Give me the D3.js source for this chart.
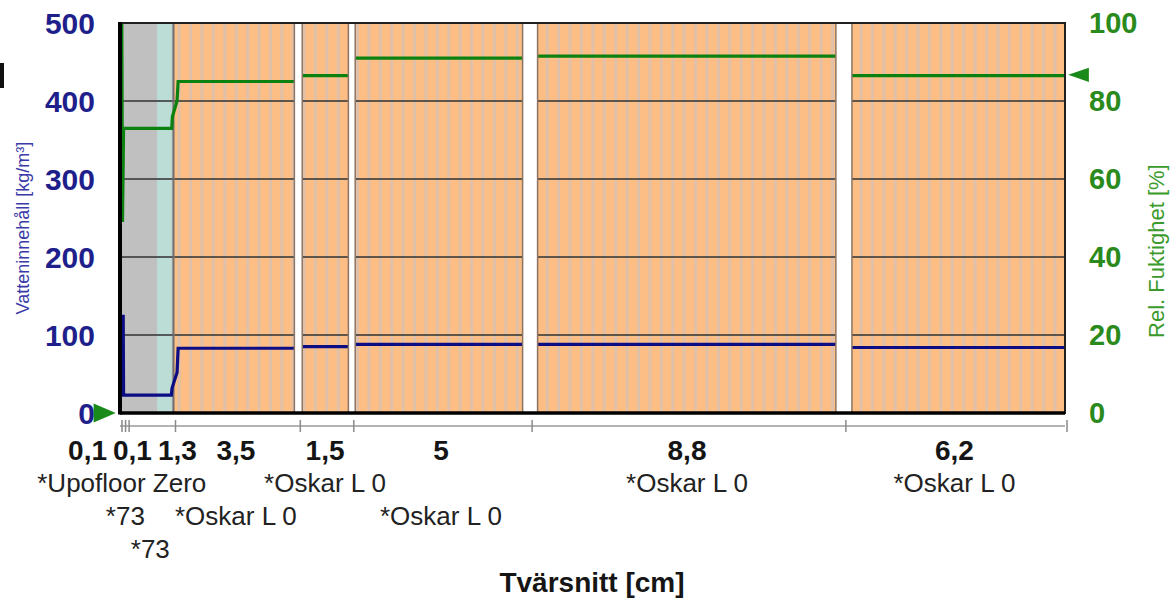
<!DOCTYPE html>
<html>
<head>
<meta charset="utf-8">
<script src="https://cdn.jsdelivr.net/npm/d3@7"></script>
<style>
  body { margin: 0; background: #fff; }
  svg { display: block; font-family: "Liberation Sans", Arial, sans-serif; }
</style>
</head>
<body>
<div id="chart"></div>
<script>
// layers (cm) and their labels
const thickness = [0.1, 0.1, 1.3, 3.5, 1.5, 5, 8.8, 6.2]
const thicknessLabels = ['0,1', '0,1', '1,3', '3,5', '1,5', '5', '8,8', '6,2']
const materials = ['*Upofloor Zero', '*73', '*73', '*Oskar L 0', '*Oskar L 0', '*Oskar L 0', '*Oskar L 0', '*Oskar L 0']
const materialKind = ['floor', 'floor', 'floor', 'wood', 'wood', 'wood', 'wood', 'wood']
// white separators after layer index, width in cm
const gapAfter = [3, 4, 5, 6]
const gapWidthCm = [0.22, 0.19, 0.42, 0.45]
const tealBand = [1.04, 1.45]

const waterTicks = [0, 100, 200, 300, 400, 500]
const rhTicks = [0, 20, 40, 60, 80, 100]

// water content [kg/m3] along the section
const waterContent = [[0.09, 126], [0.1, 23], [1.44, 23], [1.46, 32], [1.6, 52], [1.63, 83], [5.0, 83], [5.0, 85],
  [6.5, 85], [6.5, 88], [11.5, 88], [20.3, 88], [20.3, 84], [26.5, 84]]
// relative humidity [%]
const relHumidity = [[0.05, 100], [0.07, 49], [0.1, 73], [1.45, 73], [1.47, 76], [1.6, 80], [1.63, 85], [5.0, 85], [5.0, 86.5],
  [6.5, 86.5], [6.5, 91], [11.5, 91], [11.5, 91.5], [20.3, 91.5], [20.3, 86.5], [26.5, 86.5]]
const boundaryRH = [0, 86.7]

const width = 1170, height = 599
const margin = { top: 23, right: 105, bottom: 186, left: 120 }
const fills = { floor: '#c0c0c0', wood: '#fcbe85' }

let svg = d3.select('#chart').append('svg')
    .attr('width', width)
    .attr('height', height)

const edges = [0]
thickness.forEach(t => edges.push(edges[edges.length - 1] + t))
const total = edges[edges.length - 1]

let x = d3.scaleLinear().domain([0, total]).range([margin.left, width - margin.right])
let y = d3.scaleLinear().domain([0, 500]).range([height - margin.bottom, margin.top])
let yRH = d3.scaleLinear().domain([0, 100]).range([height - margin.bottom, margin.top])

const layers = thickness.map((t, i) => ({ i, x0: edges[i], x1: edges[i + 1], kind: materialKind[i] }))

svg.append('clipPath').attr('id', 'plotclip')
    .append('rect')
    .attr('x', x(0)).attr('y', y(500))
    .attr('width', x(total) - x(0)).attr('height', y(0) - y(500))

let plot = svg.append('g').attr('clip-path', 'url(#plotclip)')

// layer fills
plot.selectAll('rect.layer')
    .data(layers)
    .enter()
    .append('rect')
    .attr('class', 'layer')
    .attr('x', d => x(d.x0))
    .attr('y', y(500))
    .attr('width', d => x(d.x1) - x(d.x0) + 0.5)
    .attr('height', y(0) - y(500))
    .attr('fill', d => fills[d.kind])

// light stripes inside wood layers
const stripeStep = 0.32
let stripes = []
layers.filter(d => d.kind === 'wood').forEach(d => {
    d3.range(d.x0 + stripeStep / 2, d.x1, stripeStep).forEach(v => stripes.push(v))
})
plot.selectAll('line.stripe')
    .data(stripes)
    .enter()
    .append('line')
    .attr('class', 'stripe')
    .attr('x1', d => x(d)).attr('x2', d => x(d))
    .attr('y1', y(500)).attr('y2', y(0))
    .attr('stroke', '#e0c0a8')
    .attr('stroke-width', 3)

plot.append('rect')
    .attr('x', x(tealBand[0]))
    .attr('y', y(500))
    .attr('width', x(tealBand[1]) - x(tealBand[0]))
    .attr('height', y(0) - y(500))
    .attr('fill', '#bcdcd6')

// horizontal grid
plot.selectAll('line.grid')
    .data(waterTicks.slice(1, -1))
    .enter()
    .append('line')
    .attr('class', 'grid')
    .attr('x1', x(0)).attr('x2', x(total))
    .attr('y1', d => y(d)).attr('y2', d => y(d))
    .attr('stroke', '#3a3a3a')
    .attr('stroke-opacity', 0.8)
    .attr('stroke-width', 2)

// boundary between floor and wood
plot.append('line')
    .attr('x1', x(edges[3])).attr('x2', x(edges[3]))
    .attr('y1', y(500)).attr('y2', y(0))
    .attr('stroke', '#6e6e6e')
    .attr('stroke-width', 2)

// curves
let lineW = d3.line().x(d => x(d[0])).y(d => y(d[1]))
let lineRH = d3.line().x(d => x(d[0])).y(d => yRH(d[1]))

plot.append('path')
    .datum(relHumidity)
    .attr('d', lineRH)
    .attr('fill', 'none')
    .attr('stroke', '#0b820f')
    .attr('stroke-width', 3.2)

plot.append('path')
    .datum(waterContent)
    .attr('d', lineW)
    .attr('fill', 'none')
    .attr('stroke', '#0c0c84')
    .attr('stroke-width', 3.2)

// white separators
const gaps = gapAfter.map((li, k) => ({ at: edges[li + 1], w: gapWidthCm[k] }))
let gapG = plot.selectAll('g.gap')
    .data(gaps)
    .enter()
    .append('g')
    .attr('class', 'gap')
gapG.append('rect')
    .attr('x', d => x(d.at - d.w / 2))
    .attr('y', y(500) - 2)
    .attr('width', d => x(d.w) - x(0))
    .attr('height', y(0) - y(500) + 4)
    .attr('fill', '#fff')
gapG.selectAll('line')
    .data(d => [d.at - d.w / 2, d.at + d.w / 2])
    .enter()
    .append('line')
    .attr('x1', d => x(d)).attr('x2', d => x(d))
    .attr('y1', y(500)).attr('y2', y(0))
    .attr('stroke', '#8c7464')
    .attr('stroke-width', 1.5)

// frame
svg.append('rect')
    .attr('x', x(0)).attr('y', y(500))
    .attr('width', x(total) - x(0)).attr('height', y(0) - y(500))
    .attr('fill', 'none')
    .attr('stroke', '#202020')
    .attr('stroke-width', 2)
svg.append('line')
    .attr('x1', x(0)).attr('x2', x(0))
    .attr('y1', y(500) - 1).attr('y2', y(0) + 1.5)
    .attr('stroke', '#000').attr('stroke-width', 4)
svg.append('line')
    .attr('x1', x(0)).attr('x2', x(total))
    .attr('y1', y(0)).attr('y2', y(0))
    .attr('stroke', '#000').attr('stroke-width', 3.5)

// axis labels
svg.selectAll('text.ytick')
    .data(waterTicks)
    .enter()
    .append('text')
    .attr('class', 'ytick')
    .attr('x', 95)
    .attr('y', d => y(d))
    .attr('dy', '0.36em')
    .attr('text-anchor', 'end')
    .attr('font-size', 30)
    .attr('font-weight', 'bold')
    .attr('fill', '#1f1f8c')
    .text(d => d)

svg.selectAll('text.rhtick')
    .data(rhTicks)
    .enter()
    .append('text')
    .attr('class', 'rhtick')
    .attr('x', 1089)
    .attr('y', d => yRH(d))
    .attr('dy', '0.36em')
    .attr('font-size', 29)
    .attr('font-weight', 'bold')
    .attr('fill', '#2a8a1c')
    .text(d => d)

svg.append('text')
    .attr('transform', `translate(29, ${y(237)}) rotate(-90)`)
    .attr('text-anchor', 'middle')
    .attr('font-size', 18)
    .attr('fill', '#3a3aa8')
    .text('Vatteninnehåll [kg/m³]')

svg.append('text')
    .attr('transform', `translate(1164, ${yRH(41.5)}) rotate(-90)`)
    .attr('text-anchor', 'middle')
    .attr('font-size', 22)
    .attr('fill', '#3a9a2a')
    .text('Rel. Fuktighet [%]')

// boundary markers
const tri = d3.symbol().type(d3.symbolTriangle).size(110)
svg.append('path')
    .attr('d', tri())
    .attr('transform', `translate(${x(0) - 19}, ${yRH(boundaryRH[0])}) rotate(90) scale(1.2,1.6)`)
    .attr('fill', '#1a8a1a')
svg.append('path')
    .attr('d', tri())
    .attr('transform', `translate(${x(total) + 17}, ${yRH(boundaryRH[1])}) rotate(-90) scale(0.9,1.5)`)
    .attr('fill', '#1a8a1a')

// section axis with brackets
const axisY = y(0) + 13
svg.append('line')
    .attr('x1', x(0)).attr('x2', x(total))
    .attr('y1', axisY).attr('y2', axisY)
    .attr('stroke', '#9a9a9a').attr('stroke-width', 1.5)
svg.selectAll('line.btick')
    .data(edges)
    .enter()
    .append('line')
    .attr('class', 'btick')
    .attr('x1', d => x(d) + 2).attr('x2', d => x(d) + 2)
    .attr('y1', axisY - 6).attr('y2', axisY + 6)
    .attr('stroke', '#8a8a8a').attr('stroke-width', 1.5)

// thickness labels, pushed apart where they overlap
let tl = svg.selectAll('text.thick')
    .data(thicknessLabels)
    .enter()
    .append('text')
    .attr('class', 'thick')
    .attr('y', 460)
    .attr('text-anchor', 'middle')
    .attr('font-size', 28)
    .attr('font-weight', 'bold')
    .attr('fill', '#151515')
    .text(d => d)
let widths = tl.nodes().map(n => n.getComputedTextLength())
let pos = layers.map(d => (x(d.x0) + x(d.x1)) / 2)
for (let it = 0; it < 200; it++) {
    for (let i = 0; i < pos.length - 1; i++) {
        let need = (widths[i] + widths[i + 1]) / 2 + 6
        let gap = pos[i + 1] - pos[i]
        if (gap < need) {
            pos[i] -= (need - gap) / 2
            pos[i + 1] += (need - gap) / 2
        }
    }
}
tl.attr('x', (d, i) => pos[i])

// material labels, stacked in rows
let ml = svg.selectAll('text.mat')
    .data(materials)
    .enter()
    .append('text')
    .attr('class', 'mat')
    .attr('text-anchor', 'middle')
    .attr('font-size', 26)
    .attr('fill', '#222')
    .text(d => d)
let rowEnd = []
ml.each(function (d, i) {
    let w = this.getComputedTextLength()
    let c = (x(layers[i].x0) + x(layers[i].x1)) / 2
    let r = 0
    while (rowEnd[r] !== undefined && rowEnd[r] > c - w / 2) r++
    rowEnd[r] = c + w / 2
    d3.select(this).attr('x', c).attr('y', 492 + r * 33)
})

svg.append('text')
    .attr('x', 592)
    .attr('y', 592)
    .attr('text-anchor', 'middle')
    .attr('font-size', 28)
    .attr('font-weight', 'bold')
    .attr('fill', '#151515')
    .text('Tvärsnitt [cm]')

// cut-off mark at the left edge
svg.append('rect').attr('x', 0).attr('y', 63).attr('width', 4).attr('height', 25).attr('fill', '#111')
</script>
</body>
</html>
